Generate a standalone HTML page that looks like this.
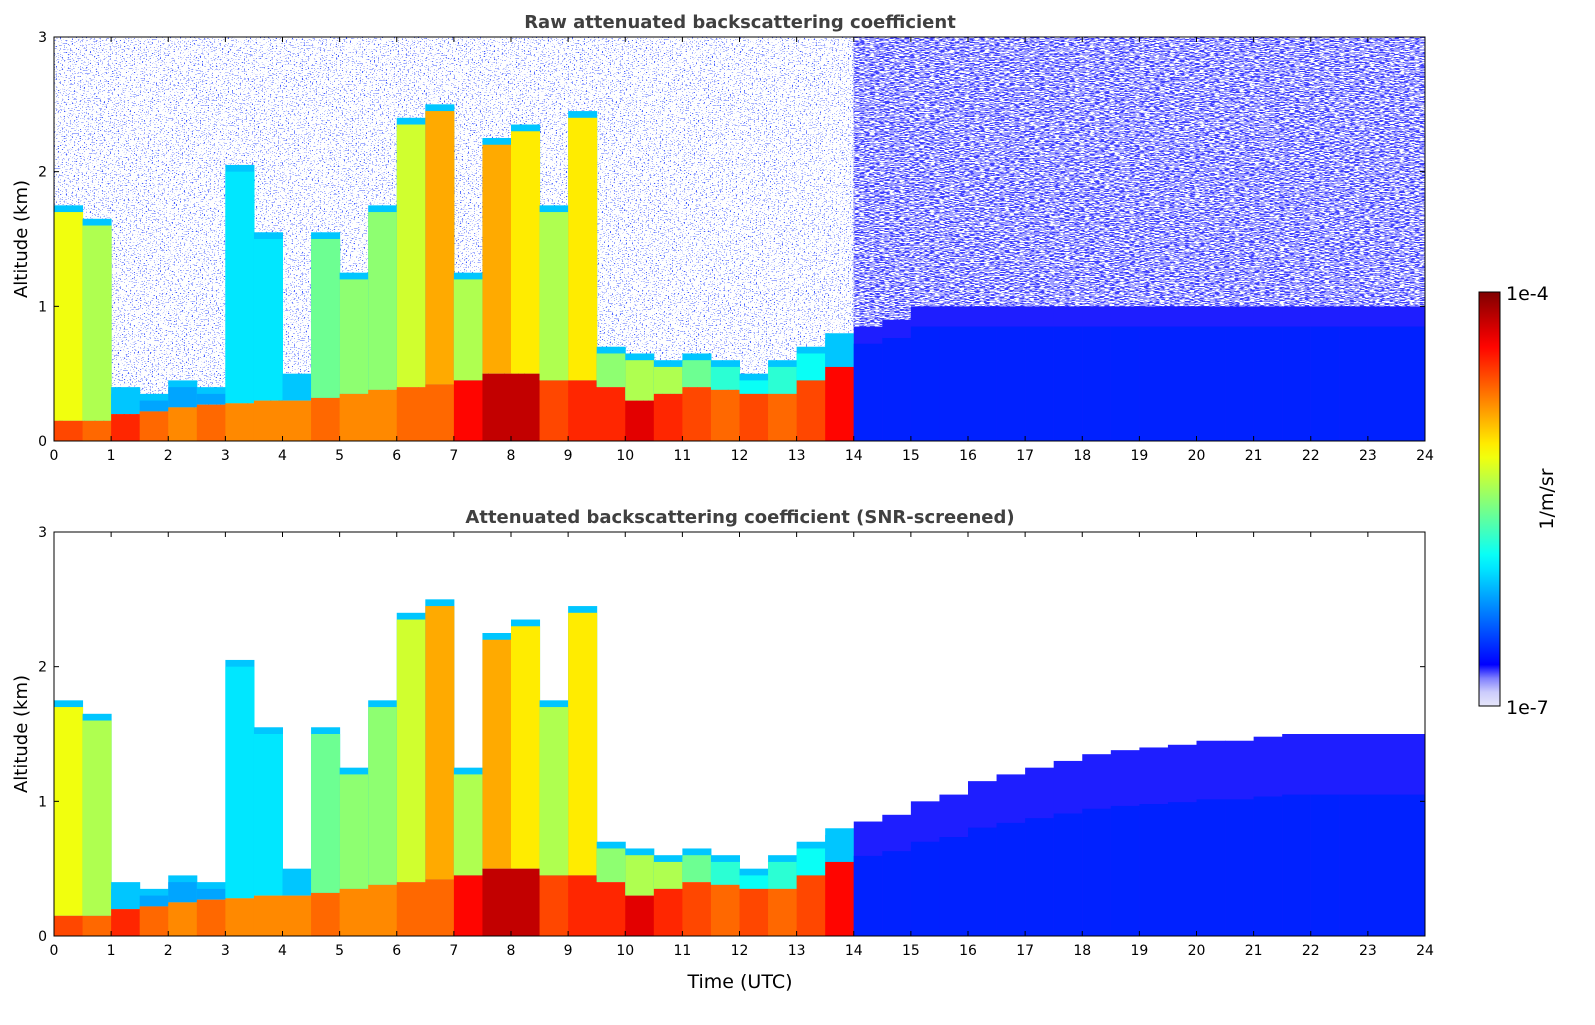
<!DOCTYPE html>
<html><head><meta charset="utf-8"><style>
body{margin:0;background:#fff;font-family:"Liberation Sans","DejaVu Sans",sans-serif}
svg text{font-family:"DejaVu Sans","Liberation Sans",sans-serif}
</style></head><body>
<svg id="fig" width="1595" height="1020" viewBox="0 0 1595 1020" xmlns="http://www.w3.org/2000/svg">
<defs>
<filter id="spkL" x="0" y="0" width="1" height="1"><feTurbulence type="fractalNoise" baseFrequency="0.5 1.2" numOctaves="1" seed="4"/><feColorMatrix type="matrix" values="0 0 0 0 0.05  0 0 0 0 0.1  0 0 0 0 1  14 0 0 0 -8.6"/></filter>
<filter id="spkR" x="0" y="0" width="1" height="1"><feTurbulence type="fractalNoise" baseFrequency="0.2 1.2" numOctaves="1" seed="7"/><feColorMatrix type="matrix" values="0 0 0 0 0.05  0 0 0 0 0.05  0 0 0 0 1  14 0 0 0 -6.6"/></filter>
<linearGradient id="cbar" x1="0" y1="1" x2="0" y2="0"></linearGradient>
<clipPath id="clipTop"><rect x="54" y="37" width="1371" height="404"/></clipPath>
<clipPath id="clipBot"><rect x="54" y="532" width="1371" height="404"/></clipPath>
</defs>
<g id="topPanel"></g>
<g id="botPanel"></g>
<g id="colorbar"></g>
</svg>
<script>
// time bins (hour start, 0.5 h width)
const hours = [0,0.5,1,1.5,2,2.5,3,3.5,4,4.5,5,5.5,6,6.5,7,7.5,8,8.5,9,9.5,10,10.5,11,11.5,12,12.5,13,13.5,14,14.5,15,15.5,16,16.5,17,17.5,18,18.5,19,19.5,20,20.5,21,21.5,22,22.5,23,23.5];
// boundary-layer (aerosol) top, km
const blTop = [0.15,0.15,0.2,0.22,0.25,0.27,0.28,0.3,0.3,0.32,0.35,0.38,0.4,0.42,0.45,0.5,0.5,0.45,0.45,0.4,0.3,0.35,0.4,0.38,0.35,0.35,0.45,0.55,0,0,0,0,0,0,0,0,0,0,0,0,0,0,0,0,0,0,0,0];
// boundary-layer log10 backscatter
const blVal = [-4.6,-4.7,-4.5,-4.7,-4.8,-4.7,-4.8,-4.8,-4.8,-4.7,-4.8,-4.8,-4.7,-4.7,-4.4,-4.2,-4.2,-4.6,-4.5,-4.5,-4.3,-4.5,-4.6,-4.7,-4.6,-4.7,-4.6,-4.4,-6.6,-6.6,-6.6,-6.6,-6.6,-6.6,-6.6,-6.6,-6.6,-6.6,-6.6,-6.6,-6.6,-6.6,-6.6,-6.6,-6.6,-6.6,-6.6,-6.6];
// column / cloud top, km
const colTop = [1.7,1.6,0.35,0.3,0.4,0.35,2.0,1.5,0.45,1.5,1.2,1.7,2.35,2.45,1.2,2.2,2.3,1.7,2.4,0.65,0.6,0.55,0.6,0.55,0.45,0.55,0.65,0.75,0.85,0.9,1.0,1.05,1.15,1.2,1.25,1.3,1.35,1.38,1.4,1.42,1.45,1.45,1.48,1.5,1.5,1.5,1.5,1.5];
// column log10 backscatter
const colVal = [-5.2,-5.4,-6.1,-6.2,-6.2,-6.2,-6.0,-6.0,-6.1,-5.6,-5.5,-5.5,-5.3,-4.9,-5.4,-4.9,-5.1,-5.4,-5.1,-5.5,-5.4,-5.4,-5.6,-5.8,-5.9,-5.8,-5.9,-6.1,-6.6,-6.6,-6.6,-6.6,-6.6,-6.6,-6.6,-6.6,-6.6,-6.6,-6.6,-6.6,-6.6,-6.6,-6.6,-6.6,-6.6,-6.6,-6.6,-6.6];
const xTicks = [0,1,2,3,4,5,6,7,8,9,10,11,12,13,14,15,16,17,18,19,20,21,22,23,24];
const yTicks = [0,1,2,3];

const NS="http://www.w3.org/2000/svg";
const X0=54,X1=1425,W=X1-X0;
const xs=t=>X0+t*W/24;
function mk(tag,attrs,parent){const e=document.createElementNS(NS,tag);for(const k in attrs)e.setAttribute(k,attrs[k]);parent.appendChild(e);return e;}
function cl(x){return Math.max(0,Math.min(1,x));}
function cmap(lv){
  let v=(lv+7)/3;v=cl(v);
  if(v<0.1){const f=v/0.1;const c=[230-230*f*f,230-230*f*f,250+5*f];return `rgb(${c.map(Math.round)})`;}
  const w=0.125+(v-0.1)/0.9*0.875;
  const r=cl(1.5-Math.abs(4*w-3)),g=cl(1.5-Math.abs(4*w-2)),b=cl(1.5-Math.abs(4*w-1));
  return `rgb(${Math.round(r*255)},${Math.round(g*255)},${Math.round(b*255)})`;
}
function panel(g,yb,title,raw){
  const ys=a=>yb-a*404/3;
  const clip=raw?'url(#clipTop)':'url(#clipBot)';
  const data=mk('g',{'clip-path':clip},g);
  
  
  if(raw){
    const nL=mk('rect',{x:X0,y:yb-404,width:xs(14)-X0,height:404,fill:'#fff',filter:'url(#spkL)'},data);
    
    
    const nR=mk('rect',{x:xs(14),y:yb-404,width:X1-xs(14),height:404,fill:'#fff',filter:'url(#spkR)'},data);
    
    
  }
  const bw=W/48;
  hours.forEach((h,i)=>{
    const x=xs(h);
    const right=h>=14;
    let top=colTop[i];
    if(raw&&right) top=Math.min(1.0,top);
    if(right){
      const lt=mk('rect',{x:x,y:ys(top),width:bw+0.5,height:ys(0)-ys(top),fill:cmap(-6.72)},data);
      
      
      const dk=mk('rect',{x:x,y:ys(top*(raw?0.85:0.7)),width:bw+0.5,height:ys(0)-ys(top*(raw?0.85:0.7)),fill:cmap(colVal[i])},data);
      
      
    } else {
      const e=mk('rect',{x:x,y:ys(top+0.05),width:bw+0.5,height:ys(blTop[i])-ys(top+0.05),fill:cmap(-6.1)},data);
      
      
      const c=mk('rect',{x:x,y:ys(top),width:bw+0.5,height:ys(blTop[i])-ys(top),fill:cmap(colVal[i])},data);
      
      
      const b=mk('rect',{x:x,y:ys(blTop[i]),width:bw+0.5,height:ys(0)-ys(blTop[i]),fill:cmap(blVal[i])},data);
      
      
    }
  });
  const fr=mk('rect',{x:X0,y:yb-404,width:W,height:404,fill:'none',stroke:'#000','stroke-width':1},g);
  
  
  xTicks.forEach(t=>{
    const x=xs(t);
    mk('line',{x1:x,x2:x,y1:yb,y2:yb-5,stroke:'#000'},g);
    mk('line',{x1:x,x2:x,y1:yb-404,y2:yb-399,stroke:'#000'},g);
    const tx=mk('text',{x:x,y:yb+19,'font-size':14,'text-anchor':'middle'},g);
    tx.textContent=t;
    
    
  });
  yTicks.forEach(a=>{
    const y=ys(a);
    mk('line',{x1:X0,x2:X0+5,y1:y,y2:y,stroke:'#000'},g);
    mk('line',{x1:X1,x2:X1-5,y1:y,y2:y,stroke:'#000'},g);
    const tx=mk('text',{x:X0-7,y:y+5,'font-size':14,'text-anchor':'end'},g);
    tx.textContent=a;
    
    
  });
  const yl=mk('text',{x:0,y:0,'font-size':18,'text-anchor':'middle',transform:`translate(27,${yb-202}) rotate(-90)`},g);
  yl.textContent='Altitude (km)';
  
  
  const tt=mk('text',{x:740,y:yb-413,'font-size':18,'font-weight':'bold','text-anchor':'middle',fill:'#404040'},g);
  tt.textContent=title;
  
  
}
panel(document.getElementById('topPanel'),441,'Raw attenuated backscattering coefficient',true);
panel(document.getElementById('botPanel'),936,'Attenuated backscattering coefficient (SNR-screened)',false);
const xt=mk('text',{x:740,y:988,'font-size':19,'text-anchor':'middle'},document.getElementById('botPanel'));
xt.textContent='Time (UTC)';


const grad=document.getElementById('cbar');
for(let i=0;i<=30;i++){mk('stop',{offset:(i/30),'stop-color':cmap(-7+3*i/30)},grad);}
const cb=document.getElementById('colorbar');
const cr=mk('rect',{x:1479,y:292,width:21,height:414,fill:'url(#cbar)',stroke:'#000','stroke-width':1},cb);


[['1e-4',298],['1e-7',712]].forEach(([s,y])=>{
  const t=mk('text',{x:1506,y:y+2,'font-size':19},cb);t.textContent=s;
  
  
});
const cu=mk('text',{x:0,y:0,'font-size':19,'text-anchor':'middle',transform:'translate(1553,499) rotate(-90)'},cb);
cu.textContent='1/m/sr';


</script>
</body></html>
